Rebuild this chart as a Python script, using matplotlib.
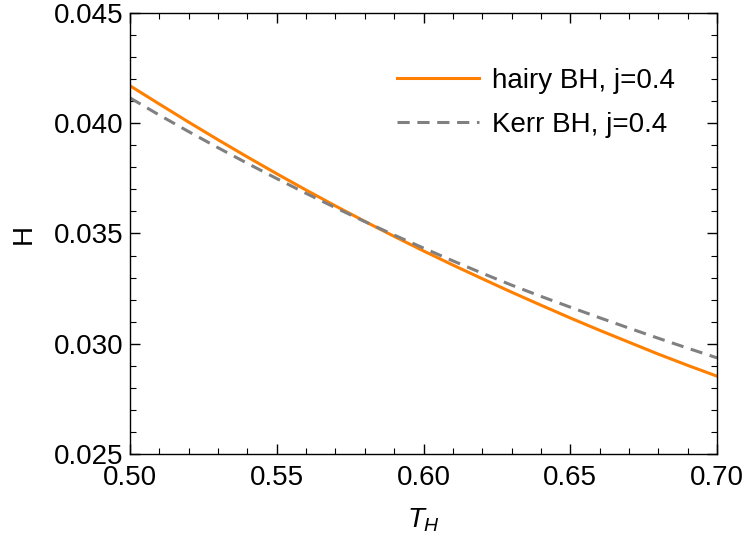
import numpy as np
import matplotlib
matplotlib.use("Agg")
import matplotlib.pyplot as plt
from matplotlib.ticker import MultipleLocator, FormatStrFormatter

T_H = [0.50, 0.51, 0.52, 0.53, 0.54, 0.55, 0.56, 0.57, 0.58, 0.59, 0.60,
       0.61, 0.62, 0.63, 0.64, 0.65, 0.66, 0.67, 0.68, 0.69, 0.70]
H_hairy = [0.04170, 0.04087, 0.04005, 0.03925, 0.03847, 0.03771, 0.03697,
           0.03625, 0.03555, 0.03487, 0.03421, 0.03357, 0.03295, 0.03234,
           0.03175, 0.03117, 0.03061, 0.03007, 0.02953, 0.02902, 0.02853]
H_kerr = [0.04115, 0.04037, 0.03962, 0.03889, 0.03818, 0.03749, 0.03682,
          0.03617, 0.03554, 0.03493, 0.03434, 0.03376, 0.03320, 0.03266,
          0.03215, 0.03166, 0.03118, 0.03071, 0.03025, 0.02980, 0.02936]

ORANGE = "#FF8000"
GRAY = "#808080"
FS = 20

plt.rcParams.update({
    "font.family": ["Liberation Sans", "DejaVu Sans"],
    "mathtext.fontset": "custom",
    "mathtext.it": "Liberation Sans:italic",
    "mathtext.rm": "Liberation Sans",
    "font.size": FS,
})

fig = plt.figure(figsize=(7.48, 5.41), dpi=100)
ax = fig.add_axes([130 / 748, 87 / 541, 587 / 748, 441 / 541])

ax.plot(T_H, H_hairy, color=ORANGE, lw=2.2, label="hairy BH, j=0.4")
ax.plot(T_H, H_kerr, color=GRAY, lw=2.2, dashes=(4, 2.5), label="Kerr BH, j=0.4")

ax.set_xlim(0.50, 0.70)
ax.set_ylim(0.025, 0.045)
ax.xaxis.set_major_locator(MultipleLocator(0.05))
ax.xaxis.set_minor_locator(MultipleLocator(0.01))
ax.yaxis.set_major_locator(MultipleLocator(0.005))
ax.yaxis.set_minor_locator(MultipleLocator(0.001))
ax.xaxis.set_major_formatter(FormatStrFormatter("%.2f"))
ax.yaxis.set_major_formatter(FormatStrFormatter("%.3f"))

ax.tick_params(which="both", direction="in", top=True, right=True,
               labelsize=FS, colors="black")
ax.tick_params(axis="y", which="both", pad=5)
ax.tick_params(axis="x", which="both", pad=8)
ax.tick_params(which="major", length=7, width=1)
ax.tick_params(which="minor", length=4, width=0.8)
for s in ax.spines.values():
    s.set_linewidth(1.0)

ax.set_xlabel("$T_H$", fontsize=FS, labelpad=11)
ax.set_ylabel("H", fontsize=FS, labelpad=12)

ax.legend(loc="upper left", bbox_to_anchor=(0.455, 0.875), frameon=False,
          fontsize=FS, handlelength=2.95, handletextpad=0.47,
          labelspacing=0.65, borderpad=0, borderaxespad=0)

fig.savefig("out.png", dpi=100)
